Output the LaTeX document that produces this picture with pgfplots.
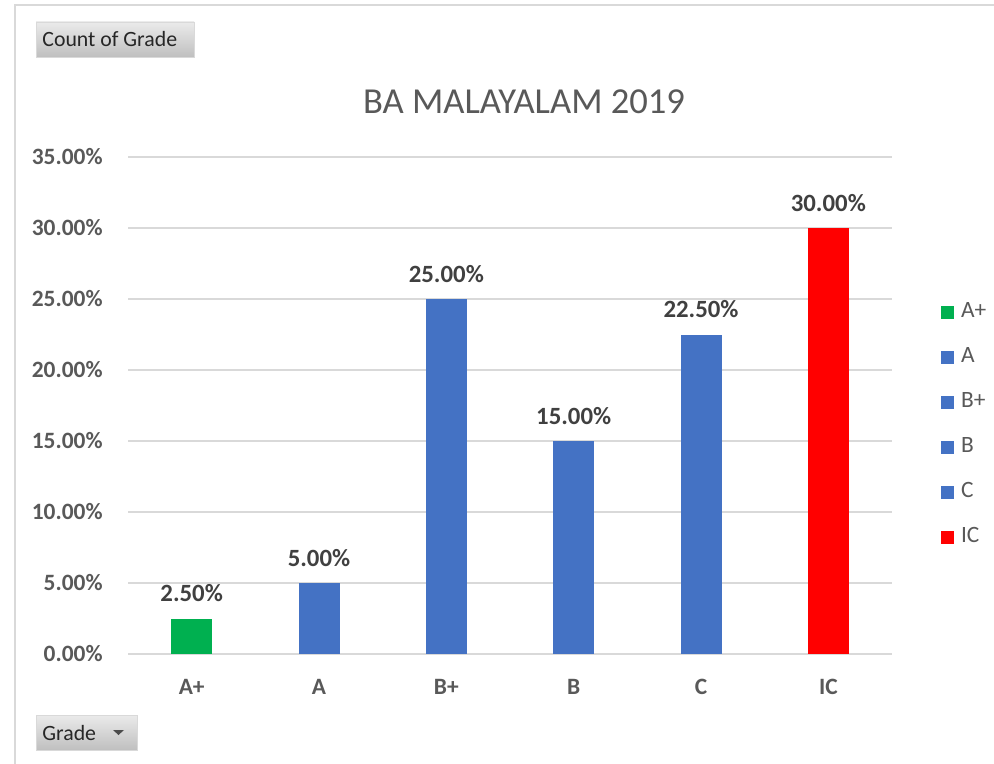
\documentclass[border=0pt]{standalone}
\usepackage{fontspec}
\setmainfont{Carlito}
\usepackage{pgfplots}
\pgfplotsset{compat=1.18}
\definecolor{cgreen}{HTML}{00B050}
\definecolor{cblue}{HTML}{4472C4}
\definecolor{cred}{HTML}{FF0000}
\definecolor{tickgray}{HTML}{595959}
\definecolor{lblgray}{HTML}{404040}
\definecolor{gridgray}{HTML}{D9D9D9}
\definecolor{framegray}{HTML}{D9D9D9}
\begin{document}
\begin{tikzpicture}
\begin{scope}[x=0.5pt,y=-0.5pt]
\useasboundingbox (0,0) rectangle (994,764);
\fill[white] (0,0) rectangle (994,764);
\draw[framegray,line width=1pt] (15,764) -- (15,5) -- (994,5);
% buttons
\shade[top color=black!8,bottom color=black!25,draw=black!15] (36,22) rectangle (194,57);
\node[anchor=base west,inner sep=0pt,font=\fontsize{10.9}{13}\selectfont,text=black!85] at (42,47) {Count of Grade};
\shade[top color=black!8,bottom color=black!25,draw=black!15] (36,715) rectangle (137,750);
\node[anchor=base west,inner sep=0pt,font=\fontsize{10.9}{13}\selectfont,text=black!85] at (42,740) {Grade};
\fill[black!70] (113,730) -- (124,730) -- (118.5,735) -- cycle;
% title
\node[anchor=base,inner sep=0pt,font=\fontsize{18.3}{22}\selectfont,text=tickgray] at (524,114) {BA MALAYALAM 2019};
\end{scope}
\begin{axis}[
  at={(64pt,-327pt)}, anchor=south west,
  scale only axis, width=382pt, height=248.5pt,
  xmin=-0.5, xmax=5.5, ymin=0, ymax=35,
  axis line style={draw=none},
  major tick length=0pt,
  xtick={0,1,2,3,4,5},
  xticklabels={A+,A,B+,B,C,IC},
  ytick={0,5,10,15,20,25,30,35},
  ymajorgrids, grid style={gridgray,line width=1pt},
  /pgf/number format/assume math mode=true,
  yticklabel={\pgfmathprintnumber[fixed,fixed zerofill,precision=2]{\tick}\%},
  yticklabel style={inner sep=0pt,xshift=-12.5pt,font=\fontsize{11.7}{14}\selectfont\bfseries,text=tickgray},
  xticklabel style={inner sep=0pt,yshift=-12.5pt,font=\fontsize{11.7}{14}\selectfont\bfseries,text=tickgray},
  clip=false,
  legend style={at={(1.056,0.718)},anchor=north west,draw=none,fill=none,
    font=\fontsize{11.7}{14}\selectfont,text=tickgray,
    nodes={inner sep=0pt,text height=8pt,text depth=3pt},
    row sep=11.5pt,column sep=3.75pt},
  legend cell align=left,
  mybar/.style={ybar,bar width=20.5pt,bar shift=0pt,draw=none,fill=#1,
    legend image code/.code={\fill[#1] (0pt,-3.1pt) rectangle (6.2pt,3.1pt);},
    nodes near coords={\pgfmathprintnumber[fixed,fixed zerofill,precision=2]{\pgfplotspointmeta}\%},
    nodes near coords style={anchor=base,yshift=8.5pt,inner sep=0pt,font=\fontsize{12.4}{15}\selectfont\bfseries,text=lblgray}},
]
\addplot[mybar=cgreen] coordinates {(0,2.5)};
\addlegendentry{A+}
\addplot[mybar=cblue] coordinates {(1,5)};
\addlegendentry{A}
\addplot[mybar=cblue] coordinates {(2,25)};
\addlegendentry{B+}
\addplot[mybar=cblue] coordinates {(3,15)};
\addlegendentry{B}
\addplot[mybar=cblue] coordinates {(4,22.5)};
\addlegendentry{C}
\addplot[mybar=cred] coordinates {(5,30)};
\addlegendentry{IC}
\end{axis}
\end{tikzpicture}
\end{document}
